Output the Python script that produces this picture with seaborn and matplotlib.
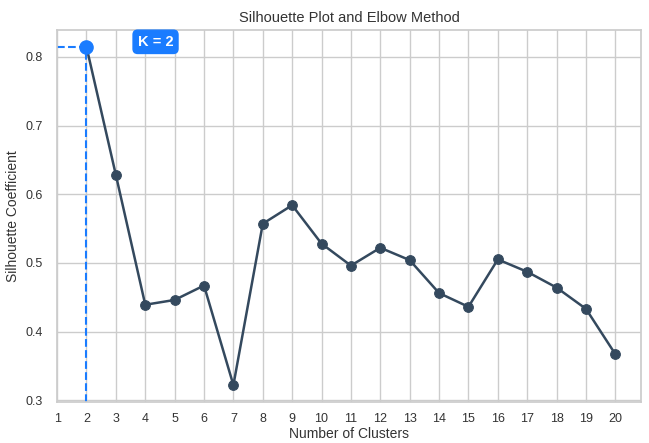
import matplotlib
matplotlib.use("Agg")
import matplotlib.pyplot as plt
import seaborn as sns
import pandas as pd

clusters = list(range(2, 21))
silhouette = [0.8145, 0.628, 0.439, 0.446, 0.467, 0.322, 0.557, 0.584, 0.528,
              0.496, 0.522, 0.504, 0.456, 0.436, 0.505, 0.487, 0.464, 0.433, 0.367]
best_k = 2
best_score = silhouette[0]
x_ticks = list(range(1, 21))

sns.set_theme(style="whitegrid")
plt.rcParams['font.family'] = ['Liberation Sans', 'DejaVu Sans']

fig, ax = plt.subplots(figsize=(6.49, 4.43), dpi=100)
df = pd.DataFrame({"k": clusters, "score": silhouette})
sns.lineplot(data=df, x="k", y="score", ax=ax, color="#34495e", linewidth=1.8,
             marker="o", markersize=7, markeredgecolor="#34495e")

ax.set_xlim(1, 20.88)
ax.set_ylim(0.297, 0.839)
ax.set_xticks(x_ticks)
ax.set_yticks([0.3, 0.4, 0.5, 0.6, 0.7, 0.8])

blue = "#1a7cff"
ax.plot([1, best_k], [best_score, best_score], linestyle="--", color=blue, linewidth=1.5)
ax.plot([best_k, best_k], [0.297, best_score], linestyle="--", color=blue, linewidth=1.5)
ax.scatter([best_k], [best_score], s=90, color=blue, zorder=5)

ax.text(4.35, 0.822, "K = 2", color="white", fontsize=10.5, fontweight="bold",
        ha="center", va="center",
        bbox=dict(boxstyle="round,pad=0.32", facecolor=blue, edgecolor=blue))

ax.set_title("Silhouette Plot and Elbow Method", fontsize=10.5, color="#333333", pad=6)
ax.set_xlabel("Number of Clusters", fontsize=10, color="#333333", labelpad=1)
ax.set_ylabel("Silhouette Coefficient", fontsize=10, color="#333333", labelpad=4)
ax.tick_params(axis="x", labelsize=9, colors="#333333", pad=2)
ax.tick_params(axis="y", labelsize=9, colors="#333333", pad=4)

fig.subplots_adjust(left=0.088, right=0.988, top=0.932, bottom=0.092)
fig.savefig("out.png", dpi=100)
